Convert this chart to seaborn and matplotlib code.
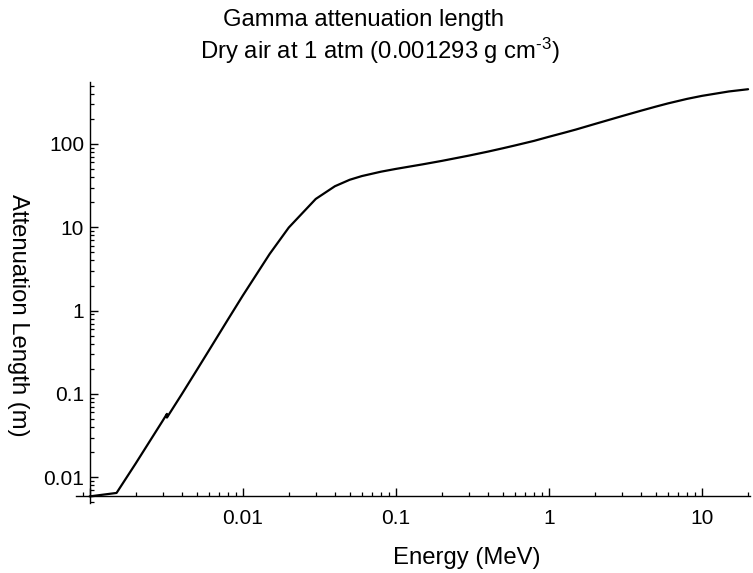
import numpy as np
import pandas as pd
import matplotlib
matplotlib.use("Agg")
import matplotlib.pyplot as plt
import matplotlib.ticker as mticker
import seaborn as sns

# ---- data ----
energy_mev = [0.001, 0.0015, 0.002, 0.003, 0.0032, 0.0032, 0.004, 0.005, 0.006,
              0.008, 0.01, 0.015, 0.02, 0.03, 0.04, 0.05, 0.06, 0.08, 0.1,
              0.15, 0.2, 0.3, 0.4, 0.5, 0.6, 0.8, 1.0, 1.25, 1.5, 2.0, 3.0,
              4.0, 5.0, 6.0, 8.0, 10.0, 15.0, 20.0]
atten_len_m = [0.0059, 0.00649, 0.01465, 0.0476, 0.0577, 0.0521, 0.0993, 0.192, 0.330,
               0.780, 1.51, 4.79, 9.94, 21.9, 31.1, 37.2, 41.2, 46.5, 50.2,
               57.0, 62.7, 72.5, 81.0, 88.8, 96.0, 109.0, 122.0, 136.0, 149.0, 174.0, 216.0,
               251.0, 281.0, 307.0, 348.0, 378.0, 427.0, 454.0]
x_tick_vals = [0.001, 0.01, 0.1, 1, 10]
x_tick_labels = ["", "0.01", "0.1", "1", "10"]
y_tick_vals = [0.01, 0.1, 1, 10, 100]
y_tick_labels = ["0.01", "0.1", "1", "10", "100"]
origin_x, origin_y = 0.001, 0.0059

title1 = "Gamma attenuation length"
title2 = r"Dry air at 1 atm (0.001293 g cm$^{\text{-3}}$)"
xlabel = "Energy (MeV)"
ylabel = "Attenuation Length (m)"

df = pd.DataFrame({"E": energy_mev, "L": atten_len_m})

sns.set_style("ticks")
plt.rcParams["font.family"] = ["Liberation Sans", "DejaVu Sans"]
plt.rcParams["mathtext.fontset"] = "custom"
plt.rcParams["mathtext.rm"] = "Liberation Sans"
plt.rcParams["mathtext.it"] = "Liberation Sans"
plt.rcParams["text.color"] = "black"
plt.rcParams["axes.labelcolor"] = "black"
plt.rcParams["xtick.color"] = "black"
plt.rcParams["ytick.color"] = "black"
plt.rcParams["xtick.direction"] = "in"
plt.rcParams["ytick.direction"] = "in"
plt.rcParams["xtick.bottom"] = True
plt.rcParams["ytick.left"] = True
plt.rcParams["xtick.major.size"] = 5.8
plt.rcParams["ytick.major.size"] = 5.8
plt.rcParams["xtick.minor.size"] = 2.6
plt.rcParams["ytick.minor.size"] = 2.6
plt.rcParams["xtick.major.width"] = 1.0
plt.rcParams["ytick.major.width"] = 1.0
plt.rcParams["xtick.minor.width"] = 0.9
plt.rcParams["ytick.minor.width"] = 0.9

W, H = 753, 573
fig = plt.figure(figsize=(W / 100, H / 100), dpi=100)
# axes box in pixels
L_px, R_px, T_px, B_px = 76, 750, 82, 503
ax = fig.add_axes([L_px / W, 1 - B_px / H, (R_px - L_px) / W, (B_px - T_px) / H])

sns.lineplot(data=df, x="E", y="L", ax=ax, color="black", linewidth=1.6,
             estimator=None, sort=False)
ax.set_xscale("log")
ax.set_yscale("log")

# limits from pixel geometry
x0_px, xdec = 89.6, 153.1
y0_px, ydec = 477.3, 83.33  # y=0.01 pixel, decade size
ax.set_xlim(10 ** (-3 - (x0_px - L_px) / xdec), 10 ** (-3 + (R_px - x0_px) / xdec))
ax.set_ylim(10 ** (-2 - (B_px - y0_px) / ydec), 10 ** (-2 + (y0_px - T_px) / ydec))

for s in ["top", "right"]:
    ax.spines[s].set_visible(False)
ax.spines["left"].set_position(("data", origin_x))
ax.spines["bottom"].set_position(("data", origin_y))
for s in ["left", "bottom"]:
    ax.spines[s].set_linewidth(1.0)
    ax.spines[s].set_color("black")

ax.xaxis.set_major_locator(mticker.FixedLocator(x_tick_vals))
ax.xaxis.set_major_formatter(mticker.FixedFormatter(x_tick_labels))
ax.yaxis.set_major_locator(mticker.FixedLocator(y_tick_vals))
ax.yaxis.set_major_formatter(mticker.FixedFormatter(y_tick_labels))
ax.xaxis.set_minor_locator(mticker.LogLocator(base=10, subs=np.arange(2, 10), numticks=20))
ax.yaxis.set_minor_locator(mticker.LogLocator(base=10, subs=np.arange(2, 10), numticks=20))
ax.xaxis.set_minor_formatter(mticker.NullFormatter())
ax.yaxis.set_minor_formatter(mticker.NullFormatter())

ax.tick_params(axis="both", which="both", direction="in", bottom=True, left=True,
               top=False, right=False, colors="black")
ax.tick_params(axis="both", which="major", labelsize=15)
ax.tick_params(axis="x", which="major", pad=9)
ax.tick_params(axis="y", which="major", pad=4)
ax.grid(False)

FS = 17.2
ax.set_xlabel(xlabel, fontsize=FS, color="black")
ax.xaxis.set_label_coords(467 / W, 1 - 564 / H, transform=fig.transFigure)
ax.xaxis.label.set_va("baseline")
ax.set_ylabel(ylabel, fontsize=FS, rotation=270, color="black")
ax.yaxis.set_label_coords(18 / W, 1 - 315 / H, transform=fig.transFigure)
ax.yaxis.label.set_va("center")

fig.text(363.5 / W, 1 - 26 / H, title1, ha="center", va="baseline", fontsize=FS,
         color="black")
fig.text(380 / W, 1 - 59 / H, title2, ha="center", va="baseline", fontsize=FS,
         color="black")

fig.savefig("out.png", dpi=100)
